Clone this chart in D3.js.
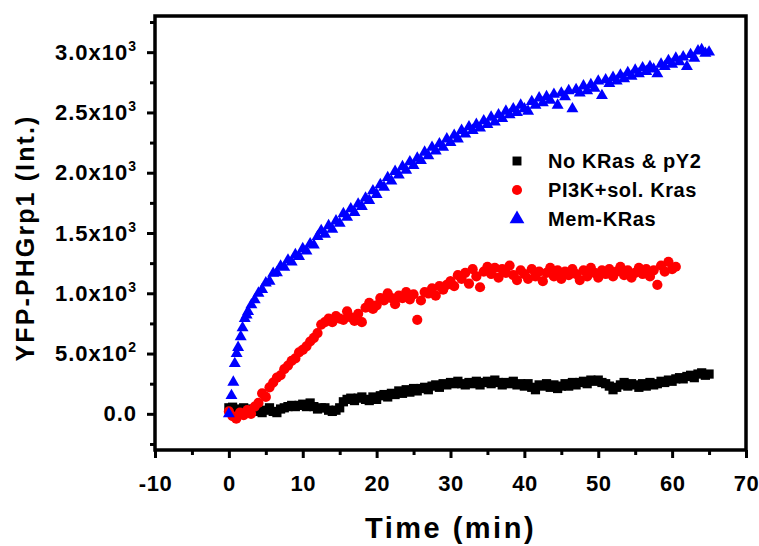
<!DOCTYPE html>
<html><head><meta charset="utf-8">
<script src="https://cdn.jsdelivr.net/npm/d3@7"></script>
<style>body{margin:0;background:#fff} svg{display:block}</style>
</head><body><svg id="c" width="759" height="546"></svg>
<script>
const time = [0,0.5,1,1.5,2,2.5,3,3.5,4,4.5,5,5.5,6,6.5,7,7.5,8,8.5,9,9.5,10,10.5,11,11.5,12,12.5,13,13.5,14,14.5,15,15.5,16,16.5,17,17.5,18,18.5,19,19.5,20,20.5,21,21.5,22,22.5,23,23.5,24,24.5,25,25.5,26,26.5,27,27.5,28,28.5,29,29.5,30,30.5,31,31.5,32,32.5,33,33.5,34,34.5,35,35.5,36,36.5,37,37.5,38,38.5,39,39.5,40,40.5,41,41.5,42,42.5,43,43.5,44,44.5,45,45.5,46,46.5,47,47.5,48,48.5,49,49.5,50,50.5,51,51.5,52,52.5,53,53.5,54,54.5,55,55.5,56,56.5,57,57.5,58,58.5,59,59.5,60,60.5,61,61.5,62,62.5,63,63.5,64,64.5,65];

const memTime = [0,0.35,0.6,0.8,1.05,1.25,1.6,1.85,2.15,2.4,2.6,3.05,3.5,4,4.5,5,5.5,6,6.5,7,7.5,8,8.5,9,9.5,10,10.5,11,11.5,12,12.5,13,13.5,14,14.5,15,15.5,16,16.5,17,17.5,18,18.5,19,19.5,20,20.5,21,21.5,22,22.5,23,23.5,24,24.5,25,25.5,26,26.5,27,27.5,28,28.5,29,29.5,30,30.5,31,31.5,32,32.5,33,33.5,34,34.5,35,35.5,36,36.5,37,37.5,38,38.5,39,39.5,40,40.5,41,41.5,42,42.5,43,43.5,44,44.5,45,45.5,46,46.5,47,47.5,48,48.5,49,49.5,50,50.5,51,51.5,52,52.5,53,53.5,54,54.5,55,55.5,56,56.5,57,57.5,58,58.5,59,59.5,60,60.5,61,61.5,62,62.5,63,63.5,64,64.5,65];

const noKras = [50,55,30,40,50,30,40,20,30,10,30,50,20,10,40,50,60,70,60,70,80,60,90,60,40,50,50,30,20,30,50,100,120,130,110,130,140,120,110,140,120,150,160,140,170,160,190,170,200,180,210,190,210,220,200,230,240,220,250,240,260,250,270,250,240,260,250,270,240,260,270,250,280,260,240,260,250,270,240,250,230,250,220,200,240,230,250,220,240,210,230,250,230,260,240,260,270,250,280,270,280,260,250,230,200,220,240,260,230,250,240,220,250,230,260,240,250,270,260,280,270,290,300,290,310,320,300,330,340,320,330];

const pi3k = [20,-20,-40,10,-10,30,0,60,90,170,140,220,260,300,320,370,400,440,460,510,530,560,600,630,670,740,760,790,760,810,790,780,850,800,770,830,760,880,920,870,900,960,940,1000,960,910,980,960,1010,950,990,780,940,1010,1000,1040,980,1060,1030,1070,1100,1060,1150,1120,1170,1080,1200,1140,1050,1180,1220,1160,1210,1130,1200,1170,1230,1150,1110,1190,1160,1120,1200,1140,1180,1100,1170,1210,1140,1190,1120,1180,1150,1200,1160,1110,1190,1140,1210,1170,1130,1190,1160,1200,1140,1180,1220,1150,1190,1130,1170,1210,1160,1200,1140,1190,1070,1230,1180,1260,1200,1220];

const memKras = [0,151,262,417,500,550,640,713,790,820,849,904,945,1000,1030,1085,1100,1165,1170,1225,1215,1275,1260,1320,1305,1370,1350,1410,1400,1470,1520,1490,1560,1530,1600,1580,1660,1630,1700,1670,1740,1720,1790,1770,1850,1820,1900,1880,1960,1930,2010,1980,2050,2020,2090,2060,2120,2100,2170,2140,2210,2180,2240,2210,2280,2250,2310,2280,2350,2320,2380,2350,2400,2370,2430,2400,2460,2420,2480,2450,2510,2480,2530,2500,2560,2530,2510,2590,2560,2620,2580,2630,2600,2650,2560,2660,2630,2680,2530,2690,2660,2720,2680,2730,2700,2760,2640,2770,2740,2790,2760,2810,2780,2830,2800,2850,2820,2870,2840,2880,2860,2820,2900,2880,2930,2900,2950,2920,2960,2880,2980,2950,3010,3020,2990,3000];

const seriesNames = ["No KRas & pY2", "PI3K+sol. Kras", "Mem-KRas"];
const seriesColors = ["#000000", "#ff0000", "#0000ff"];
const xTicks = [-10,0,10,20,30,40,50,60,70];
const xMinorTicks = [-5,5,15,25,35,45,55,65];
const yTicks = [0,500,1000,1500,2000,2500,3000];
const yMinorTicks = [-250,250,750,1250,1750,2250,2750,3250];
const yTickMantissa = ["0.0","5.0x10","1.0x10","1.5x10","2.0x10","2.5x10","3.0x10"];
const yTickExp = ["","2","3","3","3","3","3"];
const xTitle = "Time (min)";
const yTitle = "YFP-PHGrp1 (Int.)";

const svg = d3.select("#c");
const L = 155, R = 746, T = 16, B = 450;
const x = d3.scaleLinear().domain([-10, 70]).range([L, R]);
const y = d3.scaleLinear().domain([-300, 3300]).range([B, T]);
const FONT = "'Liberation Sans', Arial, sans-serif";

// data
const sets = [
  {t: time, v: noKras, sym: d3.symbolSquare, size: 85},
  {t: time, v: pi3k, sym: d3.symbolCircle, size: 82},
  {t: memTime, v: memKras, sym: d3.symbolTriangle, size: 62}
];
sets.forEach((s, i) => {
  const pts = s.v.map((v, j) => [s.t[j], v]);
  svg.append("g").selectAll("path").data(pts).join("path")
    .attr("d", d3.symbol().type(s.sym).size(s.size))
    .attr("transform", d => `translate(${x(d[0])},${y(d[1])})`)
    .attr("fill", seriesColors[i]);
});

// axes
const yAx = svg.append("g").attr("transform", `translate(${L},0)`)
  .call(d3.axisLeft(y).tickValues(yTicks).tickSize(8).tickFormat(""));
const yAxMin = svg.append("g").attr("transform", `translate(${L},0)`)
  .call(d3.axisLeft(y).tickValues(yMinorTicks).tickSize(5).tickFormat(""));
const xAx = svg.append("g").attr("transform", `translate(0,${B})`)
  .call(d3.axisBottom(x).tickValues(xTicks).tickSize(8).tickFormat(""));
const xAxMin = svg.append("g").attr("transform", `translate(0,${B})`)
  .call(d3.axisBottom(x).tickValues(xMinorTicks).tickSize(5).tickFormat(""));
[yAx, yAxMin, xAx, xAxMin].forEach(a => {
  a.select(".domain").remove();
  a.selectAll(".tick line").attr("stroke", "#000").attr("stroke-width", 3);
});

// frame
svg.append("rect").attr("x", L).attr("y", T).attr("width", R - L).attr("height", B - T)
  .attr("fill", "none").attr("stroke", "#000").attr("stroke-width", 3.5);

// y tick labels
yAx.selectAll(".tick").each(function(d, i) {
  const t = d3.select(this).append("text")
    .attr("x", -18).attr("y", 0).attr("dy", "0.32em")
    .attr("text-anchor", "end").attr("fill", "#000")
    .style("font-family", FONT).style("font-weight", "bold").style("font-size", "22px")
    .style("letter-spacing", "1px");
  t.append("tspan").text(yTickMantissa[i]);
  if (yTickExp[i]) t.append("tspan").attr("dy", -9).style("font-size", "14px").text(yTickExp[i]);
});

// x tick labels
xAx.selectAll(".tick").append("text")
  .attr("y", 41).attr("text-anchor", "middle").attr("fill", "#000")
  .style("font-family", FONT).style("font-weight", "bold").style("font-size", "22px")
  .style("letter-spacing", "0.5px")
  .text((d) => d);

// titles
svg.append("text").attr("x", (L + R) / 2).attr("y", 538).attr("text-anchor", "middle")
  .style("font-family", FONT).style("font-weight", "bold").style("font-size", "29px")
  .style("letter-spacing", "2.5px").text(xTitle);
svg.append("text").attr("transform", `translate(33.5,${238}) rotate(-90)`).attr("text-anchor", "middle")
  .style("font-family", FONT).style("font-weight", "bold").style("font-size", "25px")
  .style("letter-spacing", "2.1px").text(yTitle);

// legend
const legSyms = [
  {sym: d3.symbolSquare, size: 80},
  {sym: d3.symbolCircle, size: 80},
  {sym: d3.symbolTriangle, size: 95}
];
const lg = svg.append("g");
seriesNames.forEach((n, i) => {
  const cy = 161 + i * 29;
  lg.append("path").attr("d", d3.symbol().type(legSyms[i].sym).size(legSyms[i].size))
    .attr("transform", `translate(517,${cy})`).attr("fill", seriesColors[i]);
  lg.append("text").attr("x", 548).attr("y", cy + 7)
    .style("font-family", FONT).style("font-weight", "bold").style("font-size", "20px")
    .style("letter-spacing", "0.6px").text(n);
});
</script></body></html>
